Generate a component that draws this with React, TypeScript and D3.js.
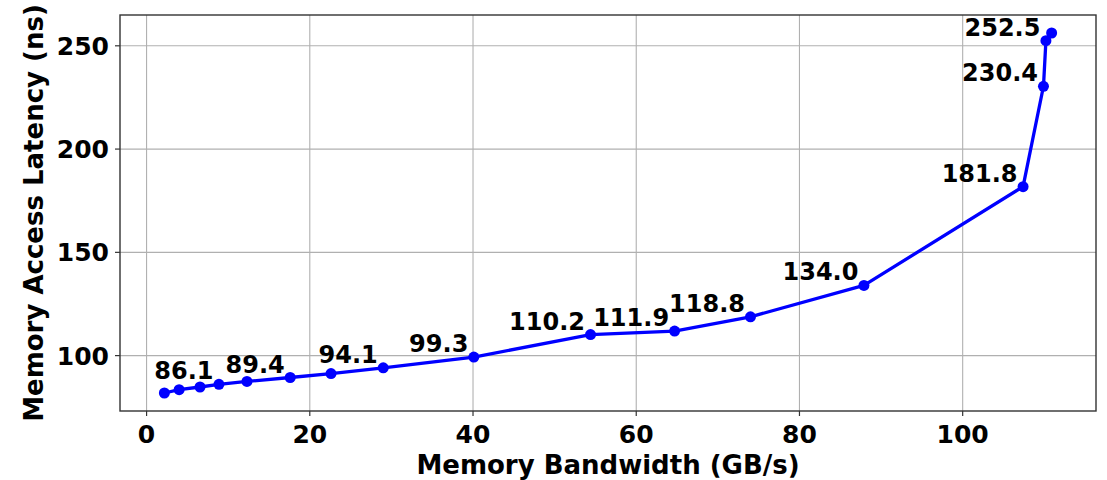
import React from "react";
import * as d3 from "d3";

const bandwidth = [2.18, 3.99, 6.55, 8.87, 12.3, 17.6, 22.6, 29.0, 40.1, 54.4, 64.7, 74.0, 87.9, 107.4, 109.9, 110.2, 110.9];
const latency = [81.9, 83.5, 84.8, 86.1, 87.5, 89.4, 91.3, 94.1, 99.3, 110.2, 111.9, 118.8, 134.0, 181.8, 230.4, 252.5, 256.2];
const pointLabels = [null, null, null, "86.1", null, "89.4", null, "94.1", "99.3", "110.2", "111.9", "118.8", "134.0", "181.8", "230.4", "252.5", null];
const xTicks = [0, 20, 40, 60, 80, 100];
const yTicks = [100, 150, 200, 250];
const xTitle = "Memory Bandwidth (GB/s)";
const yTitle = "Memory Access Latency (ns)";

const W = 1107;
const H = 480;
const plot = { left: 120, right: 1096, top: 15, bottom: 411 };
const FONT = "'DejaVu Sans', sans-serif";

function padded(vals: number[]): [number, number] {
  const lo = d3.min(vals) as number;
  const hi = d3.max(vals) as number;
  const m = (hi - lo) * 0.05;
  return [lo - m, hi + m];
}

export default function App() {
  const x = d3.scaleLinear().domain(padded(bandwidth)).range([plot.left, plot.right]);
  const y = d3.scaleLinear().domain(padded(latency)).range([plot.bottom, plot.top]);
  const pts = bandwidth.map((b, i) => [b, latency[i]] as [number, number]);
  const line = d3.line<[number, number]>().x((d) => x(d[0])).y((d) => y(d[1]));

  return (
    <svg
      width={W}
      height={H}
      style={{ position: "absolute", left: 0, top: 0, background: "#fff" }}
      fontFamily={FONT}
      fontWeight="bold"
    >
      <rect x={0} y={0} width={W} height={H} fill="#fff" />
      {xTicks.map((t) => (
        <line key={"gx" + t} x1={x(t)} x2={x(t)} y1={plot.top} y2={plot.bottom} stroke="#b0b0b0" strokeWidth={1.1} />
      ))}
      {yTicks.map((t) => (
        <line key={"gy" + t} x1={plot.left} x2={plot.right} y1={y(t)} y2={y(t)} stroke="#b0b0b0" strokeWidth={1.1} />
      ))}
      <path d={line(pts) || ""} fill="none" stroke="#0000ff" strokeWidth={3.3} strokeLinejoin="round" />
      {pts.map((p, i) => (
        <circle key={"p" + i} cx={x(p[0])} cy={y(p[1])} r={5.5} fill="#0000ff" />
      ))}
      {pts.map((p, i) =>
        pointLabels[i] ? (
          <text key={"l" + i} x={x(p[0]) - 5.5} y={y(p[1]) - 5} textAnchor="end" fontSize={24} fill="#000">
            {pointLabels[i]}
          </text>
        ) : null
      )}
      <rect
        x={plot.left}
        y={plot.top}
        width={plot.right - plot.left}
        height={plot.bottom - plot.top}
        fill="none"
        stroke="#333"
        strokeWidth={1.4}
      />
      {xTicks.map((t) => (
        <g key={"tx" + t}>
          <line x1={x(t)} x2={x(t)} y1={plot.bottom} y2={plot.bottom + 5} stroke="#333" strokeWidth={1.2} />
          <text x={x(t)} y={443} textAnchor="middle" fontSize={25} fill="#000">
            {t}
          </text>
        </g>
      ))}
      {yTicks.map((t) => (
        <g key={"ty" + t}>
          <line x1={plot.left - 5} x2={plot.left} y1={y(t)} y2={y(t)} stroke="#333" strokeWidth={1.2} />
          <text x={109} y={y(t)} dy="0.36em" textAnchor="end" fontSize={25} fill="#000">
            {t}
          </text>
        </g>
      ))}
      <text x={(plot.left + plot.right) / 2} y={474} textAnchor="middle" fontSize={26} fill="#000">
        {xTitle}
      </text>
      <text
        transform={`translate(42.5, ${(plot.top + plot.bottom) / 2}) rotate(-90)`}
        textAnchor="middle"
        fontSize={26}
        fill="#000"
      >
        {yTitle}
      </text>
    </svg>
  );
}
